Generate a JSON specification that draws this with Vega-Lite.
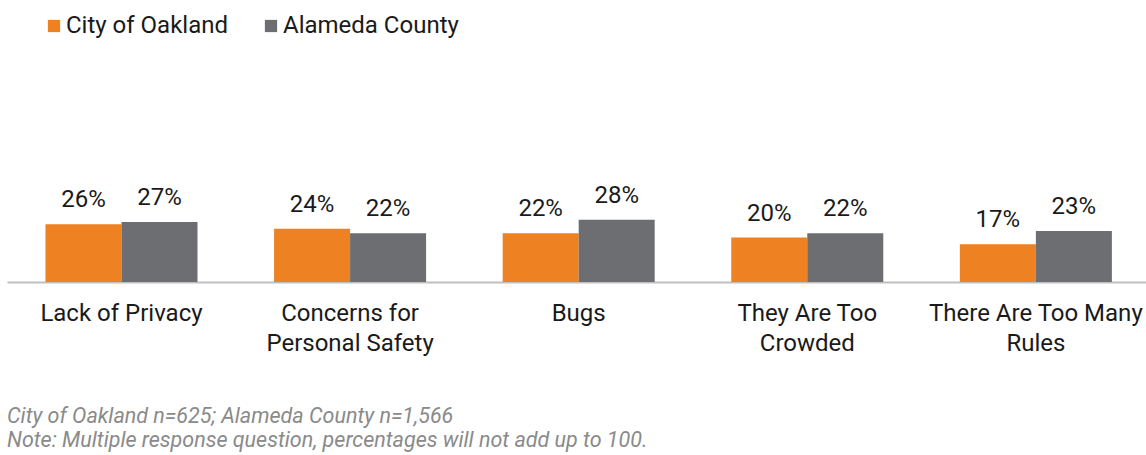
{
  "$schema": "https://vega.github.io/schema/vega-lite/v6.json",
  "width": 1139,
  "height": 222,
  "autosize": "none",
  "padding": {"left": 7, "right": 0, "top": 60, "bottom": 173},
  "background": "white",
  "config": {"font": "Roboto", "view": {"stroke": null}},
  "title": {
    "text": "City of Oakland n=625; Alameda County n=1,566",
    "subtitle": "Note: Multiple response question, percentages will not add up to 100.",
    "orient": "bottom",
    "anchor": "start",
    "frame": "group",
    "font": "Roboto",
    "fontSize": 21.5,
    "fontStyle": "italic",
    "fontWeight": "normal",
    "color": "#8a8a8a",
    "subtitleFont": "Roboto",
    "subtitleFontSize": 21.5,
    "subtitleFontStyle": "italic",
    "subtitleColor": "#8a8a8a",
    "subtitlePadding": 2,
    "offset": 51
  },
  "data": {
    "values": [
      {"category": "Lack of Privacy", "group": "City of Oakland", "value": 0.26},
      {"category": "Lack of Privacy", "group": "Alameda County", "value": 0.27},
      {"category": "Concerns for Personal Safety", "group": "City of Oakland", "value": 0.24},
      {"category": "Concerns for Personal Safety", "group": "Alameda County", "value": 0.22},
      {"category": "Bugs", "group": "City of Oakland", "value": 0.22},
      {"category": "Bugs", "group": "Alameda County", "value": 0.28},
      {"category": "They Are Too Crowded", "group": "City of Oakland", "value": 0.20},
      {"category": "They Are Too Crowded", "group": "Alameda County", "value": 0.22},
      {"category": "There Are Too Many Rules", "group": "City of Oakland", "value": 0.17},
      {"category": "There Are Too Many Rules", "group": "Alameda County", "value": 0.23}
    ]
  },
  "encoding": {
    "x": {
      "field": "category",
      "type": "nominal",
      "sort": ["Lack of Privacy", "Concerns for Personal Safety", "Bugs", "They Are Too Crowded", "There Are Too Many Rules"],
      "scale": {"paddingInner": 0.335, "paddingOuter": 0.1588, "align": 0.53},
      "axis": {
        "title": null,
        "domainColor": "#bfbfbf",
        "domainWidth": 2,
        "ticks": false,
        "labelFont": "Roboto",
        "labelFontSize": 24,
        "labelColor": "#1a1a1a",
        "labelPadding": 19,
        "labelAngle": 0,
        "labelLineHeight": 30,
        "labelOverlap": false,
        "labelBound": false,
        "labelLimit": 0,
        "labelExpr": "datum.value == 'Concerns for Personal Safety' ? ['Concerns for', 'Personal Safety'] : datum.value == 'They Are Too Crowded' ? ['They Are Too', 'Crowded'] : datum.value == 'There Are Too Many Rules' ? ['There Are Too Many', 'Rules'] : datum.value"
      }
    },
    "xOffset": {
      "field": "group",
      "type": "nominal",
      "sort": ["City of Oakland", "Alameda County"],
      "scale": {"paddingInner": 0, "paddingOuter": 0}
    },
    "y": {
      "field": "value",
      "type": "quantitative",
      "scale": {"domain": [0, 1]},
      "axis": null
    }
  },
  "layer": [
    {
      "mark": {"type": "bar"},
      "encoding": {
        "color": {
          "field": "group",
          "type": "nominal",
          "sort": ["City of Oakland", "Alameda County"],
          "scale": {"domain": ["City of Oakland", "Alameda County"], "range": ["#EE8122", "#6D6E71"]},
          "legend": {
            "orient": "none",
            "legendX": 35,
            "legendY": -46,
            "direction": "horizontal",
            "title": null,
            "symbolType": "square",
            "symbolSize": 150,
            "symbolStrokeWidth": 0,
            "labelFont": "Roboto",
            "labelFontSize": 24,
            "labelColor": "#1a1a1a",
            "labelOffset": 0,
            "labelLimit": 0,
            "columnPadding": 30,
            "padding": 0
          }
        }
      }
    },
    {
      "mark": {"type": "text", "baseline": "alphabetic", "dy": -17, "fontSize": 24, "font": "Roboto", "color": "#1a1a1a"},
      "encoding": {
        "text": {"field": "value", "type": "quantitative", "format": ".0%"}
      }
    }
  ]
}
